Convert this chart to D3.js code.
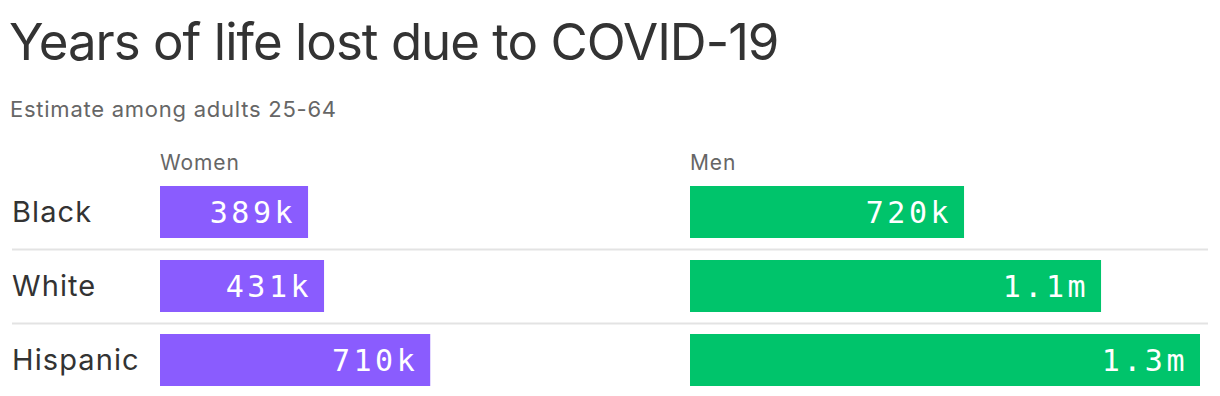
<!DOCTYPE html>
<html>
<head>
<meta charset="utf-8">
<script src="https://cdn.jsdelivr.net/npm/d3@7"></script>
<style>
  body { margin: 0; background: #fff; }
  svg { display: block; }
</style>
</head>
<body>
<div id="vis"></div>
<script>
// data, in thousands of years of life lost
var groups = ["Black", "White", "Hispanic"];
var womenValues = [389, 431, 710];
var menValues = [720, 1080, 1340];
var womenLabels = ["389k", "431k", "710k"];
var menLabels = ["720k", "1.1m", "1.3m"];
var panelNames = ["Women", "Men"];

var width = 1220,
    height = 396;

var purple = "#8a5cfe",
    green = "#00c46b";

var sans = "Inter, Roboto, 'Liberation Sans', sans-serif";

var svg = d3.select("#vis").append("svg")
  .attr("width", width)
  .attr("height", height);

// title + subtitle
svg.append("text")
  .attr("x", 9)
  .attr("y", 60)
  .style("font-family", sans)
  .style("font-size", "51px")
  .style("letter-spacing", "-1px")
  .style("fill", "#333")
  .text("Years of life lost due to COVID-19");

svg.append("text")
  .attr("x", 10)
  .attr("y", 117)
  .style("font-family", sans)
  .style("font-size", "22px")
  .style("letter-spacing", "0.75px")
  .style("fill", "#666")
  .text("Estimate among adults 25-64");

// rows
var y = d3.scaleBand()
  .domain(groups)
  .range([175, 397])
  .paddingInner(22 / 74)
  .paddingOuter(11 / 74);

// one shared scale for both panels
var x = d3.scaleLinear()
  .domain([0, 1340])
  .range([0, 510]);

var panels = [
  {name: panelNames[0], x0: 160, values: womenValues, labels: womenLabels, color: purple},
  {name: panelNames[1], x0: 690, values: menValues, labels: menLabels, color: green}
];

// separators between rows
svg.selectAll(".sep")
  .data(groups.slice(0, groups.length - 1))
  .enter().append("line")
    .attr("class", "sep")
    .attr("x1", 12)
    .attr("x2", 1208)
    .attr("y1", function(d){ return y(d) + y.bandwidth() + 11.5; })
    .attr("y2", function(d){ return y(d) + y.bandwidth() + 11.5; })
    .style("stroke", "#e3e3e3")
    .style("stroke-width", 2);

// row labels
svg.selectAll(".rowLabel")
  .data(groups)
  .enter().append("text")
    .attr("class", "rowLabel")
    .attr("x", 12)
    .attr("y", function(d){ return y(d) + y.bandwidth() / 2 + 10; })
    .style("font-family", sans)
    .style("font-size", "29px")
    .style("letter-spacing", "1.1px")
    .style("fill", "#333")
    .text(function(d){ return d; });

panels.forEach(function(p){
  var g = svg.append("g")
    .attr("transform", "translate(" + p.x0 + ",0)");

  g.append("text")
    .attr("x", 0)
    .attr("y", 170)
    .style("font-family", sans)
    .style("font-size", "21px")
    .style("letter-spacing", "0.9px")
    .style("fill", "#666")
    .text(p.name);

  var rows = groups.map(function(d, i){
    return {group: d, value: p.values[i], label: p.labels[i]};
  });

  g.selectAll("rect")
    .data(rows)
    .enter().append("rect")
      .attr("x", 0)
      .attr("y", function(d){ return y(d.group); })
      .attr("width", function(d){ return x(d.value); })
      .attr("height", y.bandwidth())
      .style("fill", p.color);

  g.selectAll(".val")
    .data(rows)
    .enter().append("text")
      .attr("class", "val")
      .attr("x", function(d){ return x(d.value) - 12; })
      .attr("y", function(d){ return y(d.group) + y.bandwidth() / 2 + 11; })
      .attr("text-anchor", "end")
      .style("font-family", "'DejaVu Sans Mono', 'Liberation Mono', monospace")
      .style("font-size", "30px")
      .style("letter-spacing", "3.5px")
      .style("fill", "#fff")
      .text(function(d){ return d.label; });
});
</script>
</body>
</html>
